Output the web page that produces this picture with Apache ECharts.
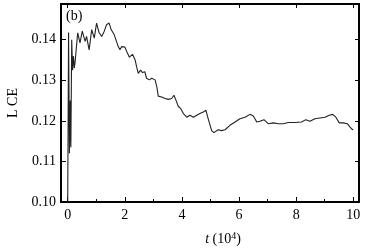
<!DOCTYPE html>
<html>
<head>
<meta charset="utf-8">
<script src="https://cdn.jsdelivr.net/npm/echarts@6/dist/echarts.min.js"></script>
<style>
  html, body { margin: 0; padding: 0; background: #fff; }
  #chart { width: 371px; height: 250px; }
</style>
</head>
<body>
<div id="chart"></div>
<script>
// t in units of 10^4
var tValues = [0, 0.03, 0.06, 0.09, 0.11, 0.14, 0.17, 0.20, 0.23, 0.26, 0.35, 0.43, 0.51, 0.61, 0.66, 0.75, 0.84, 0.93, 1.01, 1.10,
  1.19, 1.28, 1.36, 1.45, 1.52, 1.63, 1.77, 1.83, 1.89, 2.00, 2.09, 2.16, 2.27, 2.36, 2.41, 2.47, 2.55, 2.62, 2.70, 2.76,
  2.86, 2.94, 3.06, 3.12, 3.17, 3.29, 3.41, 3.52, 3.64, 3.72, 3.79, 3.87, 3.96, 4.05, 4.17, 4.28, 4.40, 4.52, 4.63, 4.75,
  4.84, 4.92, 5.04, 5.12, 5.27, 5.39, 5.51, 5.68, 5.86, 6.03, 6.21, 6.38, 6.50, 6.62, 6.73, 6.87, 7.02, 7.20, 7.37, 7.55,
  7.72, 7.78, 7.96, 8.19, 8.34, 8.48, 8.66, 8.83, 9.01, 9.16, 9.28, 9.39, 9.51, 9.65, 9.79, 9.88, 9.96, 10.0];
var lceValues = [0.100, 0.1418, 0.112, 0.125, 0.1135, 0.140, 0.1325, 0.136, 0.133, 0.1346, 0.1417, 0.1392, 0.1421, 0.1396, 0.1408, 0.1375, 0.1425, 0.1404, 0.1441, 0.1417,
  0.1408, 0.1421, 0.1437, 0.1441, 0.1425, 0.1412, 0.1383, 0.1375, 0.1383, 0.1382, 0.1367, 0.1357, 0.1364, 0.1350, 0.1334, 0.1317, 0.1325, 0.1319, 0.1321, 0.1305,
  0.1301, 0.1305, 0.1301, 0.1284, 0.1261, 0.1259, 0.1255, 0.1253, 0.1255, 0.1263, 0.1251, 0.1236, 0.1230, 0.1218, 0.1209, 0.1214, 0.1209, 0.1214, 0.1218, 0.1222,
  0.1226, 0.1205, 0.1176, 0.1171, 0.1178, 0.1176, 0.1178, 0.1189, 0.1197, 0.1205, 0.1209, 0.1216, 0.1212, 0.1197, 0.1199, 0.1203, 0.1193, 0.1195, 0.1193, 0.1193,
  0.1196, 0.1199, 0.1196, 0.1197, 0.1203, 0.1199, 0.1205, 0.1207, 0.1209, 0.1214, 0.1216, 0.1209, 0.1195, 0.1195, 0.1193, 0.1185, 0.1179, 0.1178];

var xTicks = [0, 2, 4, 6, 8, 10];
var xMinorTicks = [1, 3, 5, 7, 9];
var yTicks = [0.10, 0.11, 0.12, 0.13, 0.14];

var font = 'Liberation Serif';
var chart = echarts.init(document.getElementById('chart'), null, { renderer: 'canvas' });

var data = tValues.map(function (t, i) { return [t, lceValues[i]]; });

var baseX = {
  type: 'value', min: -0.235, max: 10.2,
  splitLine: { show: false },
  axisLine: { show: false },
  axisLabel: { show: false },
  axisTick: { show: false }
};

function xAxisOf(extra) {
  return Object.assign({}, baseX, extra);
}

var option = {
  animation: false,
  grid: { left: 61, right: 12, top: 4, bottom: 48, containLabel: false, outerBoundsMode: 'none' },
  xAxis: [
    xAxisOf({
      position: 'bottom',
      axisLine: { show: true, onZero: false, lineStyle: { color: '#000', width: 2 } },
      axisTick: { show: true, inside: true, length: 5, customValues: xTicks, lineStyle: { color: '#000' } },
      axisLabel: { show: true, customValues: xTicks, margin: 6, color: '#000', fontFamily: font, fontSize: 14 },
      name: '{i|t} (10{s|4})',
      nameLocation: 'middle',
      nameGap: 29,
      nameTextStyle: {
        color: '#000', fontFamily: font, fontSize: 14, padding: [0, 0, 0, 26],
        rich: {
          i: { fontStyle: 'italic', fontFamily: font, fontSize: 14, color: '#000' },
          s: { fontFamily: font, fontSize: 10, color: '#000', padding: [0, 0, 7, 0] }
        }
      }
    }),
    xAxisOf({
      position: 'bottom',
      axisTick: { show: true, inside: true, length: 3, customValues: xMinorTicks, lineStyle: { color: '#000' } }
    }),
    xAxisOf({
      position: 'top',
      axisLine: { show: true, onZero: false, lineStyle: { color: '#000', width: 2 } },
      axisTick: { show: true, inside: true, length: 4, customValues: xTicks, lineStyle: { color: '#000' } }
    })
  ],
  yAxis: [
    {
      type: 'value', min: 0.10, max: 0.1488, position: 'left',
      splitLine: { show: false },
      axisLine: { show: true, onZero: false, lineStyle: { color: '#000', width: 2 } },
      axisTick: { inside: true, length: 5, customValues: yTicks, lineStyle: { color: '#000' } },
      axisLabel: {
        customValues: yTicks, margin: 5, color: '#000', fontFamily: font, fontSize: 14,
        formatter: function (v) { return v.toFixed(2); }
      },
      name: 'L CE',
      nameLocation: 'middle',
      nameGap: 40,
      nameTextStyle: { color: '#000', fontFamily: font, fontSize: 14 }
    },
    {
      type: 'value', min: 0.10, max: 0.1488, position: 'right',
      splitLine: { show: false },
      axisLine: { show: true, onZero: false, lineStyle: { color: '#000', width: 2 } },
      axisTick: { inside: true, length: 4, customValues: yTicks, lineStyle: { color: '#000' } },
      axisLabel: { show: false }
    }
  ],
  graphic: [
    { type: 'text', left: 66, top: 9, style: { text: '(b)', fontFamily: font, fontSize: 14, fill: '#000' } }
  ],
  series: [{
    type: 'line',
    data: data,
    xAxisIndex: 0,
    yAxisIndex: 0,
    showSymbol: false,
    lineStyle: { color: '#222', width: 1.1 }
  }]
};

chart.setOption(option);
</script>
</body>
</html>
